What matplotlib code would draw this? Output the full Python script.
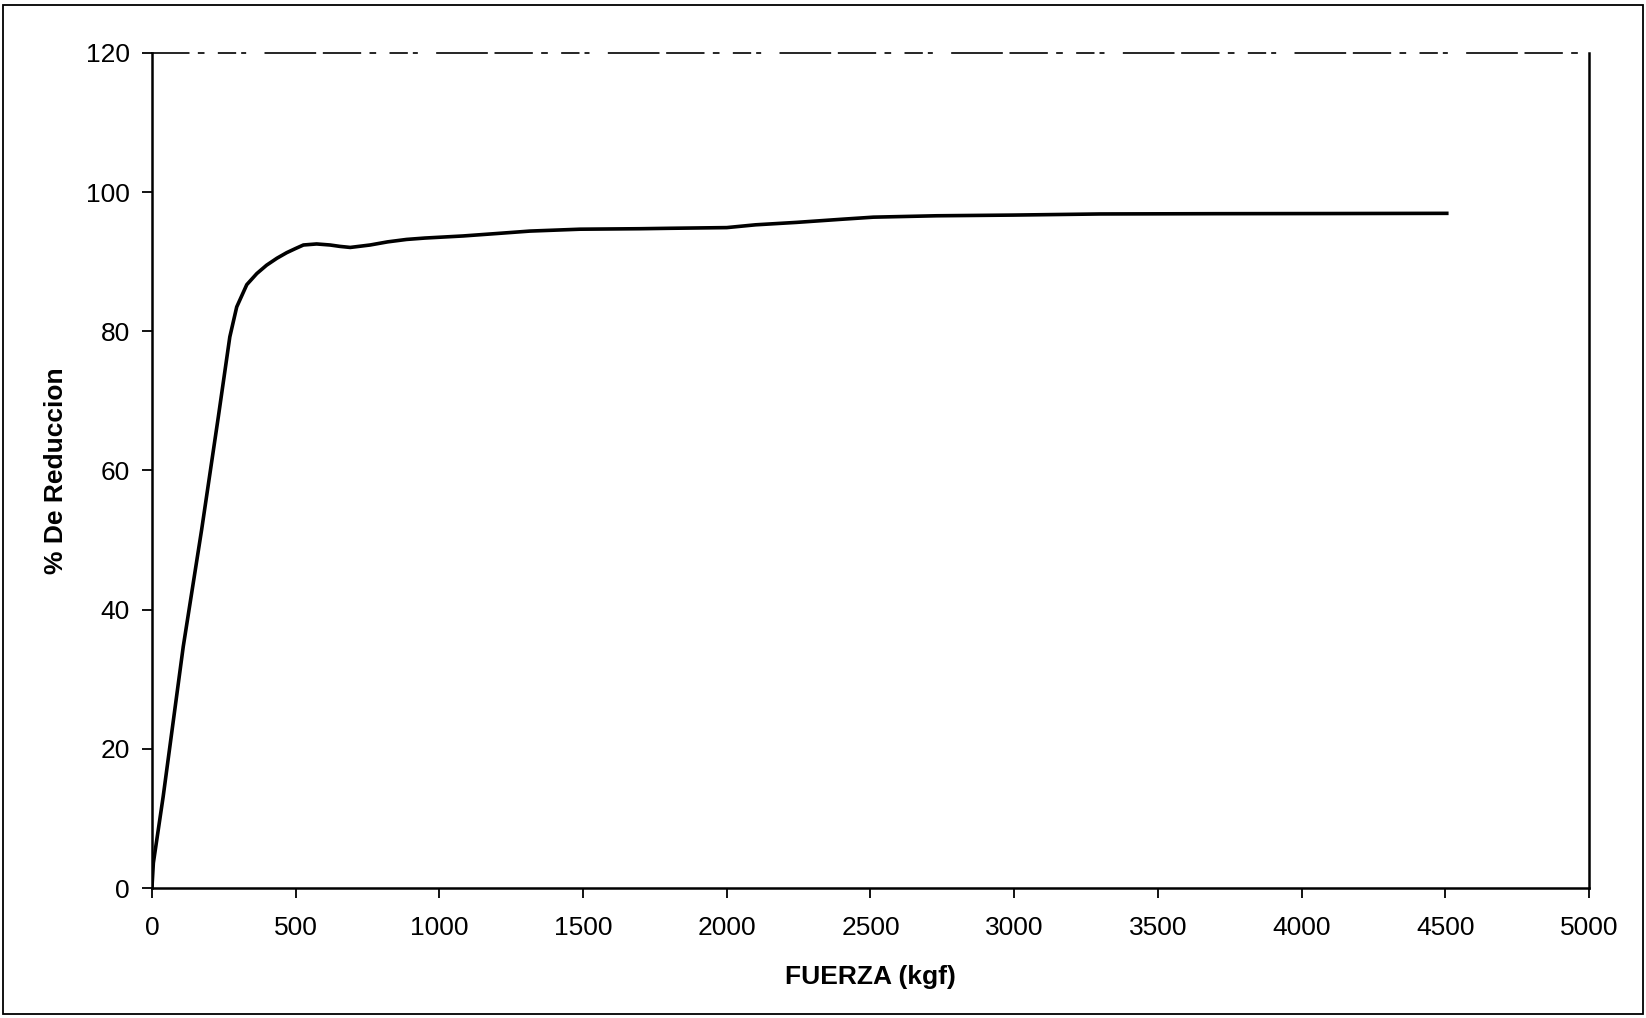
import matplotlib
matplotlib.use("Agg")
import matplotlib.pyplot as plt
from matplotlib.patches import Rectangle

plt.rcParams['font.family'] = ['Liberation Sans', 'DejaVu Sans']

# Fuerza aplicada (kgf) y porcentaje de reducción medido
fuerza = [0, 5, 39, 109, 173, 231, 271, 295, 330, 365, 399, 435, 469, 500,
          527, 573, 620, 654, 690, 759, 820, 886, 950, 1083, 1200, 1315,
          1489, 1700, 1800, 1900, 2000, 2100, 2243, 2400, 2510, 2730, 2997,
          3299, 3700, 4100, 4505]
reduccion = [0.0, 3.6, 13.1, 34.7, 51.5, 67.7, 79.2, 83.5, 86.7, 88.3, 89.5,
             90.5, 91.3, 91.9, 92.4, 92.55, 92.4, 92.2, 92.05, 92.4, 92.85,
             93.2, 93.4, 93.7, 94.05, 94.4, 94.67, 94.74, 94.8, 94.85, 94.9,
             95.3, 95.65, 96.1, 96.4, 96.6, 96.7, 96.86, 96.9, 96.92, 96.95]

x_ticks = [0, 500, 1000, 1500, 2000, 2500, 3000, 3500, 4000, 4500, 5000]
y_ticks = [0, 20, 40, 60, 80, 100, 120]

fig = plt.figure(figsize=(16.46, 10.18), dpi=100)
ax = fig.add_axes([0.0923, 0.1277, 0.8731, 0.8203])

ax.plot(fuerza, reduccion, color='black', linewidth=2.6, solid_joinstyle='round')

ax.set_xlim(0, 5000)
ax.set_ylim(0, 120)
ax.set_xticks(x_ticks)
ax.set_yticks(y_ticks)
ax.set_xticklabels([str(v) for v in x_ticks])
ax.set_yticklabels([str(v) for v in y_ticks])
ax.tick_params(axis='both', direction='out', length=7, width=1.3,
               labelsize=19, colors='black')
ax.tick_params(axis='y', pad=9)
ax.tick_params(axis='x', pad=13)

for side in ['left', 'bottom', 'right']:
    ax.spines[side].set_linewidth(1.8)
    ax.spines[side].set_color('black')
ax.spines['top'].set_linewidth(1.2)
ax.spines['top'].set_linestyle((0, (22, 6, 3, 9, 10, 4, 2, 12, 30, 5)))

ax.set_xlabel('FUERZA (kgf)', fontsize=19, fontweight='bold', labelpad=18)
ax.set_ylabel('% De Reduccion', fontsize=19, fontweight='bold', labelpad=13)

# marco exterior del gráfico
fig.patches.append(Rectangle((0.002, 0.004), 0.996, 0.991,
                             transform=fig.transFigure, fill=False,
                             edgecolor='black', linewidth=1.3))

fig.savefig('out.png', dpi=100, facecolor='white')
